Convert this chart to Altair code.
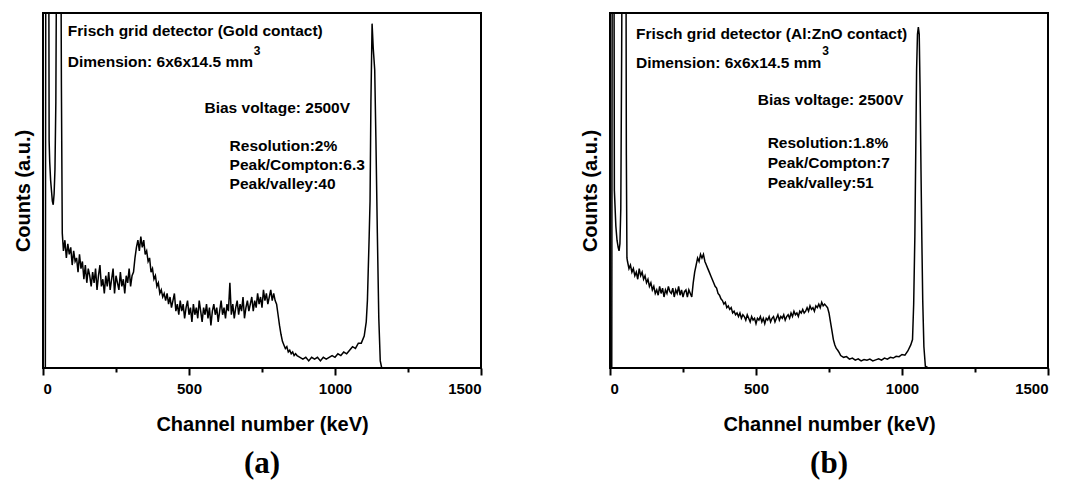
import altair as alt
import pandas as pd

# ---------------- Panel (a): Gold contact ----------------
A_HEAD_CH = [0, 8, 10, 19, 21, 23, 26, 29, 32, 35, 38, 41, 44, 46, 48, 60, 63, 66]
A_HEAD_CT = [0, 0, 150, 150, 64, 58, 53, 50, 47, 46, 49, 56, 75, 110, 150, 150, 80, 38]
A_NOISE_START, A_NOISE_STEP = 70, 5
A_NOISE_CT = [
    33, 36, 31, 35, 32, 34, 29, 33, 30, 31,
    27, 32, 28, 30, 25, 29, 24, 28, 26, 23,
    27, 24, 28, 22, 26, 29, 23, 25, 21, 26,
    23, 27, 22, 25, 28, 21, 26, 24, 22, 27,
    23, 25, 21, 26, 24, 28, 23, 26, 27, 31,
    34, 36, 33, 37, 34, 36, 32, 33, 30, 31,
    27, 28, 25, 26, 23, 24, 21, 22, 20, 21,
    19, 21, 18, 20, 17, 19, 21, 16, 18, 15,
    19, 16, 18, 14, 17, 19, 15, 17, 13, 18,
    15, 17, 14, 19, 16, 13, 17, 15, 18, 14,
    17, 12, 16, 18, 15, 17, 13, 16, 19, 15,
    17, 14, 18, 16, 24, 15, 18, 14, 17, 19,
    15, 18, 16, 20, 14, 17, 19, 16, 18, 20,
    16, 19, 17, 21, 18, 20, 17, 22, 19, 21,
    18, 20, 22, 19, 21, 19, 18, 15, 12, 9.5,
    7.5, 6.5, 5.5, 6, 4.5, 5, 4, 4.5, 3.5, 4,
]
A_TAIL_START, A_TAIL_STEP = 870, 10
A_TAIL_CT = [3.5, 3, 2.5, 3, 2, 3, 2.5, 3, 2, 3, 2.5, 3, 3.5, 3, 4, 3.5, 4.5, 4, 5, 6, 5.5, 7]
A_PEAK_CH = [1090, 1100, 1107, 1111, 1114, 1117, 1120, 1123, 1127, 1131, 1136, 1140, 1145, 1150, 1155, 1160, 1500]
A_PEAK_CT = [7, 9, 13, 19, 28, 37, 47, 75, 97, 90, 84, 65, 38, 14, 2, 0, 0]

# ---------------- Panel (b): Al:ZnO contact ----------------
B_HEAD_CH = [0, 6, 8, 13, 15, 17, 20, 24, 28, 31, 34, 37, 40, 43, 54, 56, 58]
B_HEAD_CT = [0, 0, 150, 150, 50, 46, 40, 36, 34, 33, 35, 45, 90, 150, 150, 60, 31]
B_NOISE_START, B_NOISE_STEP = 60, 5
B_NOISE_CT = [
    30, 28, 29, 27, 28, 26, 27, 25, 28, 26,
    27, 25, 26, 24, 25, 23, 24, 22, 23, 21,
    22, 20.5, 23, 21, 22.5, 20, 22, 21, 23, 21.5,
    21, 22.5, 20, 22, 21, 23, 20.5, 22, 20, 21.5,
    22, 20, 22, 21, 20, 24, 27, 29, 31, 30,
    32, 31, 32, 30, 29, 28, 27, 26, 25, 24,
    23, 22.5, 21, 20.5, 19.5, 19, 18, 18.5, 17, 17.5,
    16.5, 17, 15.5, 16, 15, 15.5, 14.5, 15.5, 14, 15,
    14.5, 13.5, 15, 14, 13, 14.5, 13.5, 14, 12.5, 14,
    13.5, 14.5, 13, 14, 12.5, 14, 13.5, 14.5, 13, 14,
    14.5, 13, 14, 15, 13.5, 14.5, 14, 15, 13.5, 14.5,
    15, 14, 15.5, 14.5, 16, 15, 15.5, 14.5, 16, 15.5,
    16.5, 15.5, 16, 17, 16, 17.5, 16.5, 17, 16, 17.5,
    17, 18, 17, 18.5, 17.5, 18, 17.5, 17, 15.5, 13,
    10.5, 8, 6.5, 5.5, 5, 4.3,
]
B_TAIL_START, B_TAIL_STEP = 790, 10
B_TAIL_CT = [3.5, 3, 3.2, 2.5, 2.8, 2.2, 2.6, 2, 2.4, 2.2, 2.5, 2, 2.3, 2.6, 2.2, 2.8,
             2.5, 3, 2.8, 3.3, 3.2, 3.8, 3.6, 4.8, 6.5]
B_PEAK_CH = [1036, 1040, 1044, 1047, 1050, 1053, 1056, 1059, 1062, 1065, 1068, 1071, 1075, 1080, 1090, 1500]
B_PEAK_CT = [8, 18, 37, 60, 84, 94, 96, 94, 78, 56, 36, 19, 6, 0.5, 0, 0]

# ---------------- Annotations (data coordinates) ----------------
A_NOTES_TEXT = ["Frisch grid detector (Gold contact)", "Dimension: 6x6x14.5 mm",
                "Bias voltage: 2500V", "Resolution:2%", "Peak/Compton:6.3", "Peak/valley:40"]
A_NOTES_CH = [85, 85, 553, 639, 639, 639]
A_NOTES_CT = [94.9, 86.2, 73.2, 62.5, 57.2, 51.8]
A_SUP = {"text": "3", "ch": 722, "ct": 89.4}

B_NOTES_TEXT = ["Frisch grid detector (Al:ZnO contact)", "Dimension: 6x6x14.5 mm",
                "Bias voltage: 2500V", "Resolution:1.8%", "Peak/Compton:7", "Peak/valley:51"]
B_NOTES_CH = [89, 89, 506, 540, 540, 540]
B_NOTES_CT = [94.1, 85.9, 75.5, 63.4, 57.7, 52.1]
B_SUP = {"text": "3", "ch": 727, "ct": 89.4}

X_TICKS = [0, 250, 500, 750, 1000, 1250, 1500]
SANS = "Liberation Sans"


def spectrum(head_ch, head_ct, n_start, n_step, n_ct, t_start, t_step, t_ct, p_ch, p_ct):
    ch = list(head_ch)
    ct = list(head_ct)
    ch += [n_start + n_step * i for i in range(len(n_ct))]
    ct += list(n_ct)
    ch += [t_start + t_step * i for i in range(len(t_ct))]
    ct += list(t_ct)
    ch += list(p_ch)
    ct += list(p_ct)
    return pd.DataFrame({"ch": ch, "ct": ct})


def panel(df, notes_text, notes_ch, notes_ct, sup, label):
    xscale = alt.Scale(domain=[0, 1500], nice=False)
    yscale = alt.Scale(domain=[0, 100], nice=False, zero=True)
    line = alt.Chart(df).mark_line(color="black", strokeWidth=1.5, clip=True).encode(
        x=alt.X("ch:Q", scale=xscale, title="Channel number (keV)",
                axis=alt.Axis(values=X_TICKS, format="d",
                              labelExpr="datum.value % 500 === 0 ? datum.label : ''",
                              tickSize={"condition": {"test": "datum.value % 500 === 0", "value": 7}, "value": 4},
                              tickWidth=2, tickColor="black", domain=False, grid=False,
                              labelFont=SANS, labelFontSize=15, labelFontWeight="bold",
                              labelColor="black", labelPadding=6,
                              titleFont=SANS, titleFontSize=20, titleFontWeight="bold",
                              titleColor="black", titlePadding=18)),
        y=alt.Y("ct:Q", scale=yscale, title="Counts (a.u.)",
                axis=alt.Axis(ticks=False, labels=False, domain=False, grid=False,
                              titleFont=SANS, titleFontSize=20, titleFontWeight="bold",
                              titleColor="black", titlePadding=10)),
    )
    notes = pd.DataFrame({"ch": notes_ch, "ct": notes_ct, "text": notes_text})
    txt = alt.Chart(notes).mark_text(align="left", baseline="middle", font=SANS,
                                     fontSize=15.5, fontWeight="bold", color="black").encode(
        x=alt.X("ch:Q", scale=xscale), y=alt.Y("ct:Q", scale=yscale), text="text:N")
    supdf = pd.DataFrame([sup])
    stxt = alt.Chart(supdf).mark_text(align="left", baseline="middle", font=SANS,
                                      fontSize=12, fontWeight="bold", color="black").encode(
        x=alt.X("ch:Q", scale=xscale), y=alt.Y("ct:Q", scale=yscale), text="text:N")
    return alt.layer(line, txt, stxt).properties(
        width=438, height=355,
        title=alt.TitleParams(label, orient="bottom", anchor="middle", font="Liberation Serif",
                              fontSize=31, fontWeight="bold", color="black", offset=15),
    )


df_a = spectrum(A_HEAD_CH, A_HEAD_CT, A_NOISE_START, A_NOISE_STEP, A_NOISE_CT,
                A_TAIL_START, A_TAIL_STEP, A_TAIL_CT, A_PEAK_CH, A_PEAK_CT)
df_b = spectrum(B_HEAD_CH, B_HEAD_CT, B_NOISE_START, B_NOISE_STEP, B_NOISE_CT,
                B_TAIL_START, B_TAIL_STEP, B_TAIL_CT, B_PEAK_CH, B_PEAK_CT)

pa = panel(df_a, A_NOTES_TEXT, A_NOTES_CH, A_NOTES_CT, A_SUP, "(a)")
pb = panel(df_b, B_NOTES_TEXT, B_NOTES_CH, B_NOTES_CT, B_SUP, "(b)")

chart = alt.hconcat(pa, pb, spacing=96).properties(
    padding={"left": 4, "top": 4, "right": 0, "bottom": 0}
).configure_view(stroke="black", strokeWidth=2)

chart.save("out.html", embed_options={"renderer": "svg", "actions": False})
